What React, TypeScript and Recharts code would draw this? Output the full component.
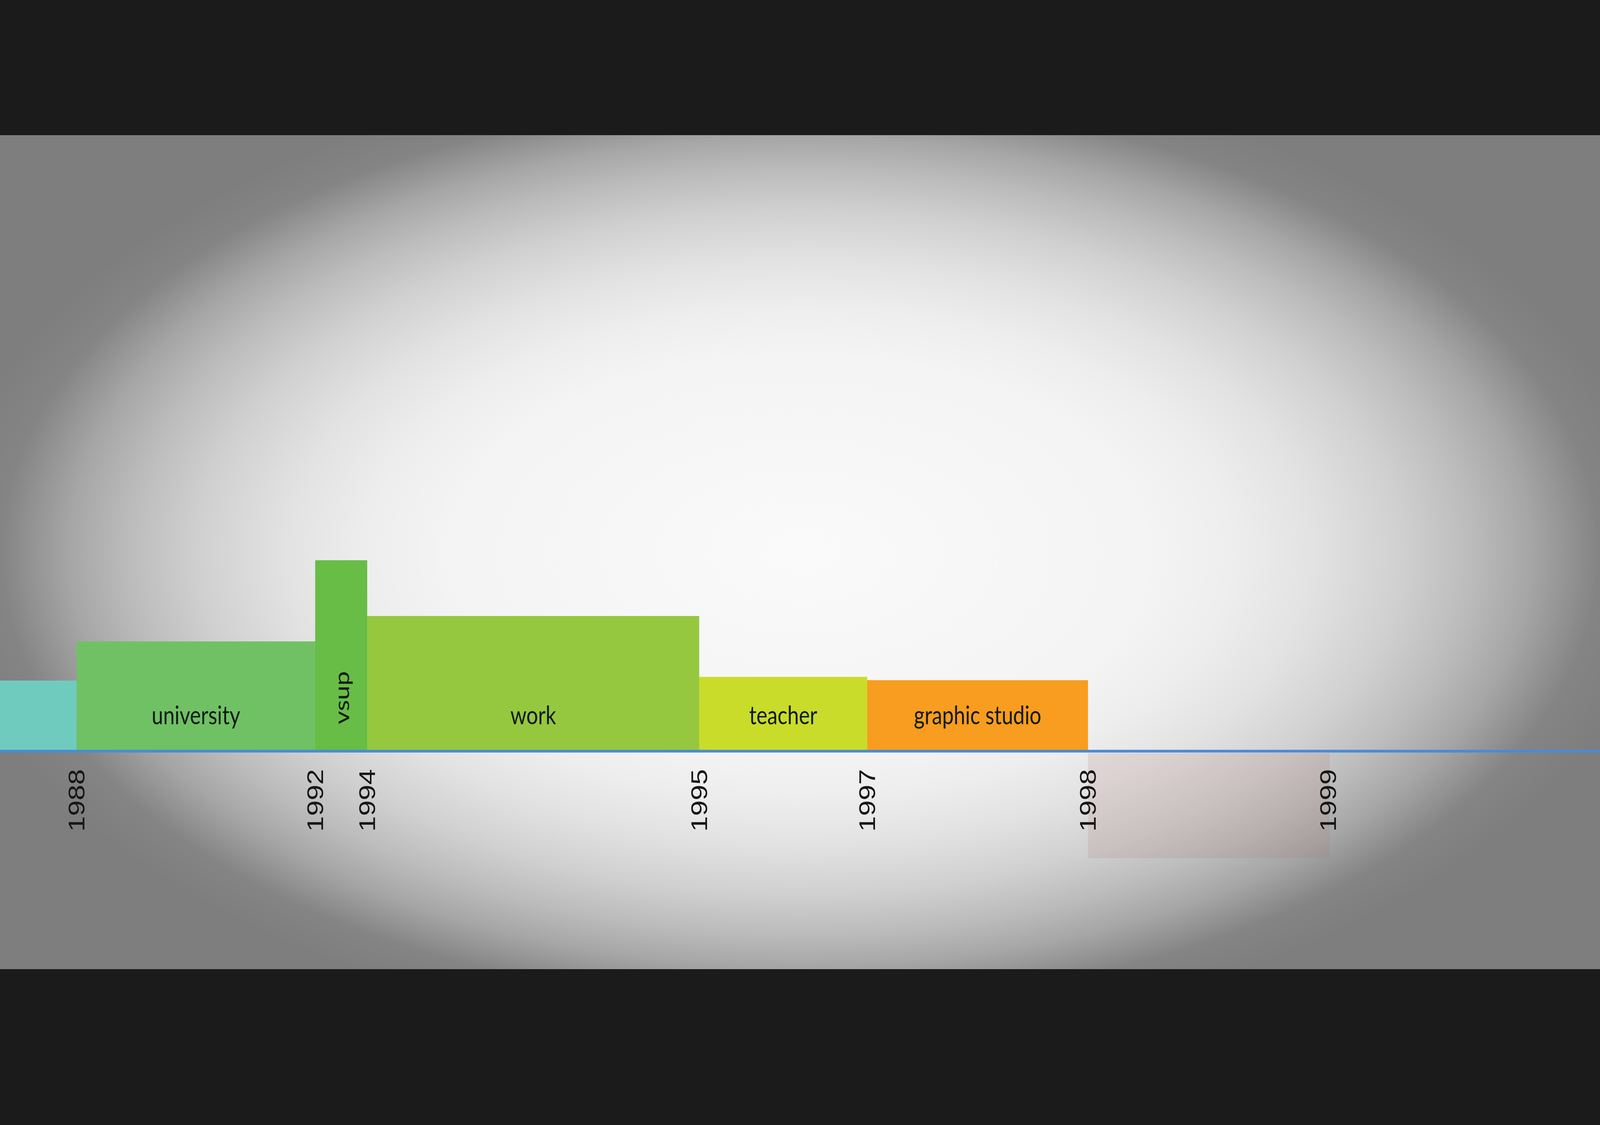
import React from 'react';
import { ComposedChart, Line, XAxis, YAxis, ReferenceArea } from 'recharts';

// timeline is not linear in years, so positions are in axis units (0..100 across the strip)
const tickYears = ['1988', '1992', '1994', '1995', '1997', '1998', '1999'];
const tickPositions = [4.79, 19.7, 22.95, 43.7, 54.2, 68.0, 83.0];

const segmentNames = ['', 'university', 'vsup', 'work', 'teacher', 'graphic studio'];
const segmentStart = [0, 4.79, 19.7, 22.95, 43.7, 54.2];
const segmentEnd = [4.79, 19.7, 22.95, 43.7, 54.2, 68.0];
const segmentHeight = [36.7, 57.0, 99.2, 70.2, 38.6, 36.9];
const segmentColors = ['#70cbbf', '#70c164', '#67bd45', '#95c83f', '#cadc2a', '#f89d1f'];

// faint box below the axis between 1998 and 1999
const gapStart = 68.0;
const gapEnd = 83.1;
const gapRange = [-1, -55.6];

const W = 5120;
const FULL_H = 2880;
const H = 2135;

const rows = segmentNames.map((name, i) => ({
    name,
    start: segmentStart[i],
    end: segmentEnd[i],
    height: segmentHeight[i],
}));

const vignette =
    'radial-gradient(ellipse 2750px 1250px at 50% 50%, #fafafa 0%, #f4f4f4 40%, #eeeeee 50%, #e2e2e2 60%, #d0d0d0 70%, #bcbcbc 78%, #a6a6a6 85%, #848484 93%, #7e7e7e 100%)';

const YearTick = ({ x, y, payload }: any) => {
    const label = tickYears[tickPositions.indexOf(payload.value)];
    return (
        <text
            transform={`translate(${x},${y + 46}) rotate(-90)`}
            textAnchor="end"
            dominantBaseline="central"
            fontFamily="'Liberation Sans', Arial, sans-serif"
            fontSize={72}
            fill="#161616"
        >
            {label}
        </text>
    );
};

const segmentLabel = (name: string, vertical: boolean) => (props: any) => {
    const vb = props.viewBox;
    if (!vb || !name) return null;
    const cx = vb.x + vb.width / 2;
    const by = vb.y + vb.height - 69;
    const style = { fontFamily: 'Lato, sans-serif', fontSize: 66, fill: '#0f1a12' };
    if (vertical) {
        return (
            <text transform={`translate(${cx},${by}) rotate(-90)`} textAnchor="start" dominantBaseline="central" {...style}>
                {name}
            </text>
        );
    }
    return (
        <text x={cx} y={by} textAnchor="middle" {...style}>
            {name}
        </text>
    );
};

export default function App() {
    // the viewport may not be 5120x2880 css px (device pixel ratio), so fit the design to it
    const hasWin = typeof window !== 'undefined';
    const sx = hasWin && window.innerWidth ? window.innerWidth / W : 1;
    const sy = hasWin && window.innerHeight ? window.innerHeight / FULL_H : 1;
    return (
        <div style={{ position: 'absolute', left: 0, top: 0, width: W * sx, height: FULL_H * sy, overflow: 'hidden' }}>
            <div
                style={{
                    position: 'absolute',
                    left: 0,
                    top: 0,
                    width: W,
                    height: FULL_H,
                    background: '#1b1b1b',
                    transform: `scale(${sx}, ${sy})`,
                    transformOrigin: '0 0',
                }}
            >
                <div style={{ position: 'absolute', left: 0, top: 346, width: W, height: H, background: vignette }}>
                    <ComposedChart width={W} height={H} data={rows} margin={{ top: 0, right: 0, bottom: 0, left: 0 }}>
                        <YAxis type="number" domain={[0, 320]} allowDataOverflow hide />
                        <XAxis
                            type="number"
                            dataKey="start"
                            domain={[0, 100]}
                            allowDataOverflow
                            ticks={tickPositions}
                            interval={0}
                            height={H - 1577}
                            tickSize={0}
                            tickMargin={0}
                            tickLine={false}
                            axisLine={{ stroke: '#4a8bd3', strokeWidth: 7 }}
                            tick={<YearTick />}
                        />
                        {/* invisible series so the chart builds its scales */}
                        <Line
                            dataKey="height"
                            stroke="none"
                            dot={false}
                            activeDot={false}
                            legendType="none"
                            isAnimationActive={false}
                        />
                        <ReferenceArea
                            x1={gapStart}
                            x2={gapEnd}
                            y1={gapRange[0]}
                            y2={gapRange[1]}
                            ifOverflow="visible"
                            fill="#a86a6a"
                            fillOpacity={0.15}
                            stroke="none"
                        />
                        {rows.map((r, i) => (
                            <ReferenceArea
                                key={`seg-${i}`}
                                x1={r.start}
                                x2={r.end}
                                y1={0}
                                y2={r.height}
                                ifOverflow="visible"
                                fill={segmentColors[i]}
                                fillOpacity={1}
                                stroke="none"
                                label={segmentLabel(r.name, r.name === 'vsup')}
                            />
                        ))}
                    </ComposedChart>
                </div>
            </div>
        </div>
    );
}
